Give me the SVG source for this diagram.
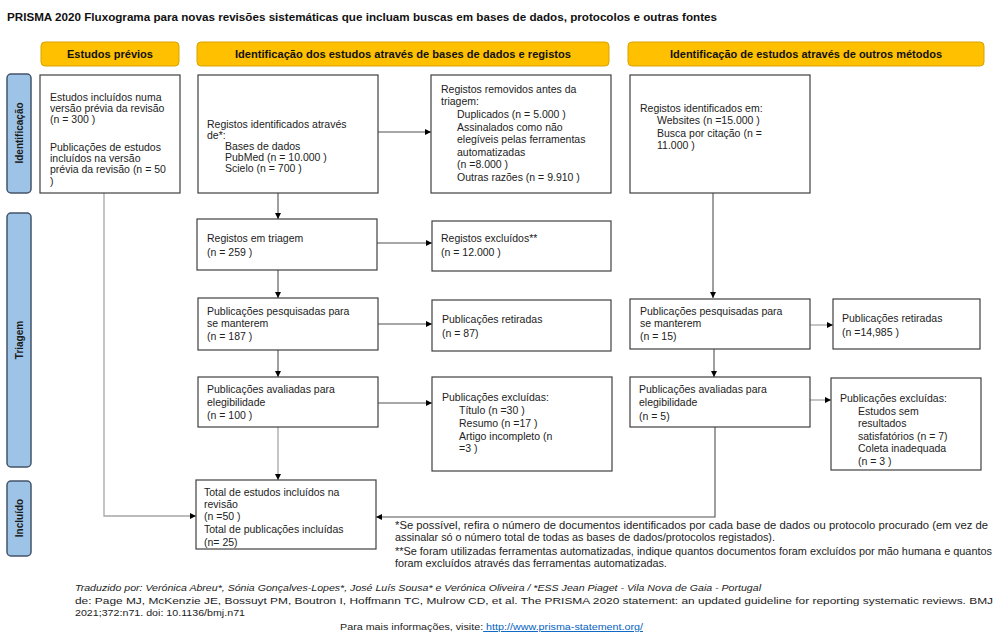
<svg xmlns="http://www.w3.org/2000/svg" width="1007" height="636" viewBox="0 0 1007 636">
<style>
text{font-family:"Liberation Sans",Arial,sans-serif;fill:#222;}
.t{font-size:10.5px;}
.title{font-size:11px;font-weight:bold;fill:#111;}
.hdr{fill:#FFC000;stroke:#D9A300;stroke-width:1;}
.ht{font-size:11px;font-weight:bold;fill:#111;text-anchor:middle;}
.side{fill:#9DC3E6;stroke:#44546A;stroke-width:1.5;}
.st{font-size:10px;font-weight:bold;fill:#1a1a1a;text-anchor:middle;}
.box{fill:#fff;stroke:#404040;stroke-width:1.2;}
.c{fill:none;stroke:#505050;stroke-width:1.1;}
.cl{fill:none;stroke:#a6a6a6;stroke-width:1.3;}
.fn{font-size:10.8px;}
.ft{font-size:9.5px;}
.fi{font-size:9.5px;font-style:italic;}
.lk{fill:#0563C1;text-decoration:underline;}
</style>
<defs>
<marker id="ah" viewBox="0 0 10 10" refX="10" refY="5" markerWidth="6" markerHeight="6" markerUnits="userSpaceOnUse" orient="auto">
<path d="M0,0 L10,5 L0,10 z" fill="#000"/>
</marker>
</defs>
<rect width="1007" height="636" fill="#fff"/>
<text class="title" x="7" y="21" textLength="710" lengthAdjust="spacingAndGlyphs">PRISMA 2020 Fluxograma para novas revisões sistemáticas que incluam buscas em bases de dados, protocolos e outras fontes</text>

<g id="hdr-previos"><rect class="hdr" x="41" y="42" width="138" height="24" rx="4"/><text class="ht" x="110" y="58" textLength="86" lengthAdjust="spacingAndGlyphs">Estudos prévios</text></g>
<g id="hdr-bases"><rect class="hdr" x="197" y="42" width="412" height="24" rx="4"/><text class="ht" x="403" y="58" textLength="336" lengthAdjust="spacingAndGlyphs">Identificação dos estudos através de bases de dados e registos</text></g>
<g id="hdr-outros"><rect class="hdr" x="628" y="42" width="356" height="24" rx="4"/><text class="ht" x="806" y="58" textLength="272" lengthAdjust="spacingAndGlyphs">Identificação de estudos através de outros métodos</text></g>

<g id="side-identificacao"><rect class="side" x="7" y="74" width="24" height="119" rx="4"/><text class="st" transform="translate(22.5,133) rotate(-90)">Identificação</text></g>
<g id="side-triagem"><rect class="side" x="7" y="213" width="24" height="254" rx="4"/><text class="st" transform="translate(22.5,340) rotate(-90)">Triagem</text></g>
<g id="side-incluido"><rect class="side" x="7" y="481" width="24" height="75" rx="4"/><text class="st" transform="translate(22.5,518) rotate(-90)">Incluído</text></g>

<g id="connectors">
<line class="c" x1="278" y1="193" x2="278" y2="219" marker-end="url(#ah)"/>
<line class="c" x1="378" y1="132" x2="431" y2="132" marker-end="url(#ah)"/>
<line class="c" x1="377" y1="243" x2="432" y2="243" marker-end="url(#ah)"/>
<line class="c" x1="278" y1="270" x2="278" y2="298" marker-end="url(#ah)"/>
<line class="c" x1="378" y1="324" x2="432" y2="324" marker-end="url(#ah)"/>
<line class="c" x1="278" y1="350" x2="278" y2="377" marker-end="url(#ah)"/>
<line class="c" x1="378" y1="403" x2="432" y2="403" marker-end="url(#ah)"/>
<line class="cl" x1="278" y1="427" x2="278" y2="480" marker-end="url(#ah)"/>
<polyline class="cl" points="104,193 104,516 196,516" marker-end="url(#ah)"/>
<line class="c" x1="713" y1="193" x2="713" y2="298" marker-end="url(#ah)"/>
<line class="cl" x1="810" y1="325" x2="833" y2="325" marker-end="url(#ah)"/>
<line class="c" x1="714" y1="349" x2="714" y2="377" marker-end="url(#ah)"/>
<line class="cl" x1="810" y1="400" x2="831" y2="400" marker-end="url(#ah)"/>
<polyline class="c" points="715,427 715,517 376,517" marker-end="url(#ah)"/>
</g>

<g id="n-previos"><rect class="box" x="40" y="75" width="140" height="118"/>
<text class="t" x="50"><tspan x="50" y="101">Estudos incluídos numa</tspan><tspan x="50" y="112">versão prévia da revisão</tspan><tspan x="50" y="123">(n = 300 )</tspan><tspan x="50" y="151">Publicações de estudos</tspan><tspan x="50" y="162">incluídos na versão</tspan><tspan x="50" y="173">prévia da revisão (n = 50</tspan><tspan x="50" y="185">)</tspan></text></g>

<g id="n-reg-ident"><rect class="box" x="198" y="75" width="180" height="118"/>
<text class="t"><tspan x="207" y="128">Registos identificados através</tspan><tspan x="207" y="139">de*:</tspan><tspan x="225" y="150">Bases de dados</tspan><tspan x="225" y="161">PubMed (n = 10.000 )</tspan><tspan x="225" y="172">Scielo (n = 700 )</tspan></text></g>

<g id="n-removidos"><rect class="box" x="431" y="75" width="180" height="118"/>
<text class="t"><tspan x="441" y="93">Registos removidos antes da</tspan><tspan x="441" y="105">triagem:</tspan><tspan x="457" y="117.5">Duplicados (n = 5.000 )</tspan><tspan x="457" y="130.5">Assinalados como não</tspan><tspan x="457" y="143">elegíveis pelas ferramentas</tspan><tspan x="457" y="155.5">automatizadas</tspan><tspan x="457" y="168">(n =8.000 )</tspan><tspan x="457" y="180.5">Outras razões (n = 9.910 )</tspan></text></g>

<g id="n-outros-ident"><rect class="box" x="630" y="75" width="180" height="118"/>
<text class="t"><tspan x="640" y="111.5">Registos identificados em:</tspan><tspan x="657" y="124">Websites (n =15.000 )</tspan><tspan x="657" y="136.5">Busca por citação (n =</tspan><tspan x="657" y="149">11.000 )</tspan></text></g>

<g id="n-triagem"><rect class="box" x="197" y="219" width="180" height="51"/>
<text class="t"><tspan x="207" y="241.5">Registos em triagem</tspan><tspan x="207" y="255.5">(n = 259 )</tspan></text></g>

<g id="n-excluidos"><rect class="box" x="432" y="221" width="179" height="50"/>
<text class="t"><tspan x="441" y="242">Registos excluídos**</tspan><tspan x="441" y="256">(n = 12.000 )</tspan></text></g>

<g id="n-pesq"><rect class="box" x="198" y="298" width="180" height="52"/>
<text class="t"><tspan x="207" y="314.5">Publicações pesquisadas para</tspan><tspan x="207" y="327">se manterem</tspan><tspan x="207" y="339.5">(n = 187 )</tspan></text></g>

<g id="n-retiradas"><rect class="box" x="432" y="300" width="179" height="51"/>
<text class="t"><tspan x="442" y="323">Publicações retiradas</tspan><tspan x="442" y="336.5">(n = 87)</tspan></text></g>

<g id="n-outros-pesq"><rect class="box" x="630" y="299" width="180" height="50"/>
<text class="t"><tspan x="640" y="314.5">Publicações pesquisadas para</tspan><tspan x="640" y="327">se manterem</tspan><tspan x="640" y="340">(n = 15)</tspan></text></g>

<g id="n-outros-retiradas"><rect class="box" x="833" y="299" width="147" height="50"/>
<text class="t"><tspan x="842" y="322">Publicações retiradas</tspan><tspan x="842" y="336">(n =14,985 )</tspan></text></g>

<g id="n-avaliadas"><rect class="box" x="198" y="377" width="180" height="50"/>
<text class="t"><tspan x="207" y="393">Publicações avaliadas para</tspan><tspan x="207" y="406">elegibilidade</tspan><tspan x="207" y="419">(n = 100 )</tspan></text></g>

<g id="n-excluidas"><rect class="box" x="432" y="377" width="180" height="94"/>
<text class="t"><tspan x="442" y="401">Publicações excluídas:</tspan><tspan x="459" y="413.5">Título (n =30 )</tspan><tspan x="459" y="426.5">Resumo (n =17 )</tspan><tspan x="459" y="439.5">Artigo incompleto (n</tspan><tspan x="459" y="452">=3 )</tspan></text></g>

<g id="n-outros-avaliadas"><rect class="box" x="630" y="377" width="180" height="50"/>
<text class="t"><tspan x="639" y="393">Publicações avaliadas para</tspan><tspan x="639" y="406">elegibilidade</tspan><tspan x="639" y="419.5">(n = 5)</tspan></text></g>

<g id="n-outros-excluidas"><rect class="box" x="831" y="378" width="150" height="92"/>
<text class="t"><tspan x="840" y="402">Publicações excluídas:</tspan><tspan x="858" y="414.5">Estudos sem</tspan><tspan x="858" y="427">resultados</tspan><tspan x="858" y="439.5">satisfatórios (n = 7)</tspan><tspan x="858" y="452">Coleta inadequada</tspan><tspan x="858" y="465">(n = 3 )</tspan></text></g>

<g id="n-total"><rect class="box" x="196" y="480" width="180" height="69"/>
<text class="t"><tspan x="204" y="495.5">Total de estudos incluídos na</tspan><tspan x="204" y="508">revisão</tspan><tspan x="204" y="520">(n =50 )</tspan><tspan x="204" y="533">Total de publicações incluídas</tspan><tspan x="204" y="546">(n= 25)</tspan></text></g>

<g id="footnotes">
<text class="fn" x="395" y="529" textLength="593" lengthAdjust="spacingAndGlyphs">*Se possível, refira o número de documentos identificados por cada base de dados ou protocolo procurado (em vez de</text>
<text class="fn" x="395" y="541">assinalar só o número total de todas as bases de dados/protocolos registados).</text>
<text class="fn" x="395" y="555" textLength="597" lengthAdjust="spacingAndGlyphs">**Se foram utilizadas ferramentas automatizadas, indique quantos documentos foram excluídos por mão humana e quantos</text>
<text class="fn" x="395" y="567">foram excluídos através das ferramentas automatizadas.</text>
</g>

<g id="footer">
<text class="fi" x="75" y="591" textLength="686" lengthAdjust="spacingAndGlyphs">Traduzido por: Verónica Abreu*, Sónia Gonçalves-Lopes*, José Luís Sousa* e Verónica Oliveira /  *ESS Jean Piaget - Vila Nova de Gaia - Portugal</text>
<text class="ft" x="75" y="604" textLength="918" lengthAdjust="spacingAndGlyphs">de: Page MJ, McKenzie JE, Bossuyt PM, Boutron I, Hoffmann TC, Mulrow CD, et al. The PRISMA 2020 statement: an updated guideline for reporting systematic reviews. BMJ</text>
<text class="ft" x="75" y="616" textLength="170" lengthAdjust="spacingAndGlyphs">2021;372:n71. doi: 10.1136/bmj.n71</text>
<text class="ft" x="340" y="630" textLength="303" lengthAdjust="spacingAndGlyphs">Para mais informações, visite:<tspan class="lk"> http://www.prisma-statement.org/</tspan></text>
</g>
</svg>
